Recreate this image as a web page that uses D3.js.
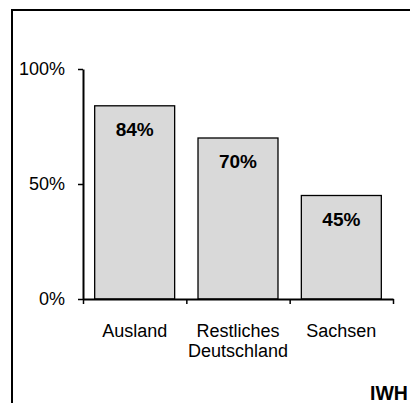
<!DOCTYPE html>
<html><head><meta charset="utf-8">
<script src="https://cdn.jsdelivr.net/npm/d3@7"></script>
<style>body{margin:0;background:#fff;} svg{display:block;}</style>
</head><body>
<svg id="c" width="410" height="403"></svg>
<script>
const categories = [["Ausland"], ["Restliches", "Deutschland"], ["Sachsen"]];
const values = [84, 70, 45];
const yTicks = [0, 50, 100];
const source = "IWH";

const font = "'Liberation Sans', Arial, sans-serif";
const svg = d3.select("#c");

// frame
svg.append("rect").attr("x", 12).attr("y", 10).attr("width", 420).attr("height", 420)
  .attr("fill", "none").attr("stroke", "#000").attr("stroke-width", 2);

const mLeft = 83, mRight = 393, mTop = 69, mBottom = 299;
const x = d3.scaleBand().domain(d3.range(values.length)).range([mLeft, mRight])
  .paddingInner(0.226).paddingOuter(0.113);
const xb = d3.scaleLinear().domain([0, values.length]).range([mLeft, mRight]);
const y = d3.scaleLinear().domain([0, 100]).range([mBottom, mTop]);

// bars
svg.append("g").selectAll("rect").data(values).join("rect")
  .attr("x", (d, i) => x(i)).attr("width", x.bandwidth())
  .attr("y", d => y(d)).attr("height", d => y(0) - y(d))
  .attr("fill", "#d9d9d9").attr("stroke", "#000").attr("stroke-width", 1.3);

// value labels
svg.append("g").selectAll("text").data(values).join("text")
  .attr("x", (d, i) => x(i) + x.bandwidth() / 2)
  .attr("y", d => y(d) + 30)
  .attr("text-anchor", "middle")
  .attr("font-family", font).attr("font-weight", "bold").attr("font-size", 19)
  .text(d => d + "%");

// y axis
const ya = svg.append("g").attr("transform", `translate(${mLeft},0)`)
  .call(d3.axisLeft(y).tickValues(yTicks).tickFormat(d => d + "%").tickSize(5).tickSizeOuter(0).tickPadding(13));
ya.select(".domain").attr("stroke-width", 2);
ya.selectAll(".tick line").attr("stroke-width", 1.5);
ya.selectAll("text").attr("font-family", font).attr("font-size", 18).attr("fill", "#000");

// x axis (ticks at boundaries)
const xa = svg.append("g").attr("transform", `translate(0,${mBottom})`)
  .call(d3.axisBottom(xb).tickValues(d3.range(values.length + 1)).tickFormat("").tickSize(5).tickSizeOuter(0));
xa.select(".domain").attr("stroke-width", 2);
xa.selectAll(".tick line").attr("stroke-width", 1.5);

// category labels
const cl = svg.append("g").selectAll("text").data(categories).join("text")
  .attr("x", (d, i) => x(i) + x.bandwidth() / 2)
  .attr("y", 336.5)
  .attr("text-anchor", "middle")
  .attr("font-family", font).attr("font-size", 18);
cl.selectAll("tspan").data(d => d).join("tspan")
  .attr("x", function() { return this.parentNode.getAttribute("x"); })
  .attr("dy", (d, i) => i ? 20.6 : 0)
  .text(d => d);

// source
svg.append("text").attr("x", 370).attr("y", 400)
  .attr("font-family", font).attr("font-weight", "bold").attr("font-size", 19.5)
  .text(source);
</script>
</body></html>
